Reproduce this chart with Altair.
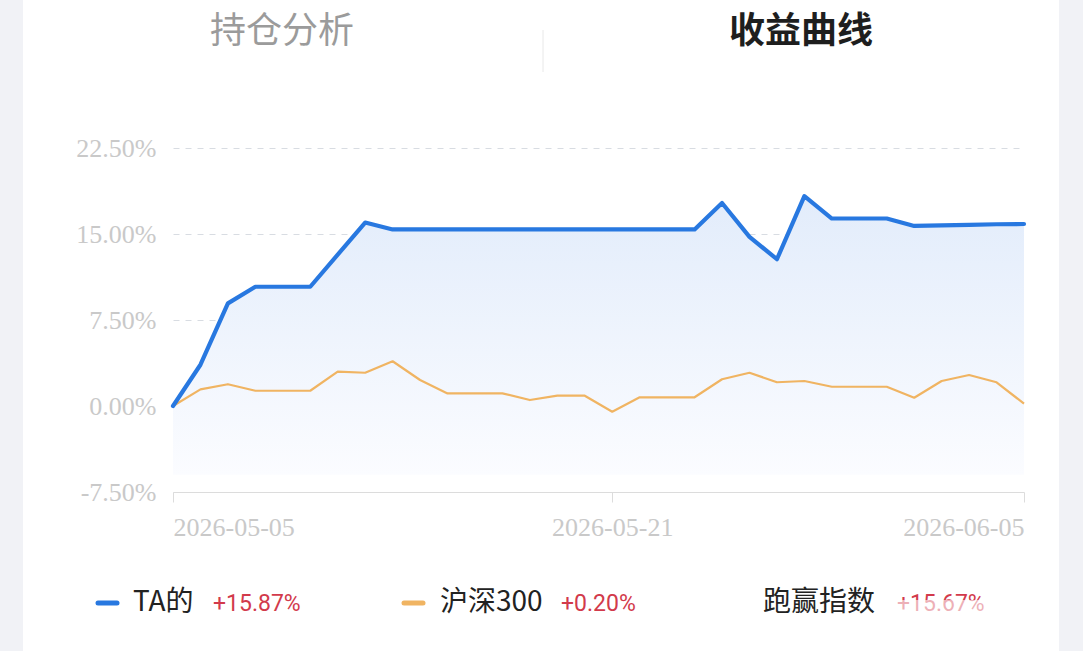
import altair as alt
import pandas as pd

# ---------------- data ----------------
dates = pd.date_range("2026-05-05", "2026-06-05", freq="D").strftime("%Y-%m-%d").tolist()
ta_returns = [0.0, 3.6, 8.95, 10.4, 10.4, 10.4, 13.2, 16.0, 15.4, 15.4,
              15.4, 15.4, 15.4, 15.4, 15.4, 15.4, 15.4, 15.4, 15.4, 15.4,
              17.7, 14.75, 12.8, 18.3, 16.35, 16.35, 16.35, 15.7, 15.75, 15.8,
              15.85, 15.87]
hs300_returns = [0.0, 1.45, 1.9, 1.33, 1.33, 1.33, 3.0, 2.9, 3.9, 2.27,
                 1.1, 1.1, 1.1, 0.52, 0.9, 0.9, -0.5, 0.76, 0.76, 0.76,
                 2.33, 2.9, 2.07, 2.18, 1.68, 1.68, 1.68, 0.72, 2.18, 2.7,
                 2.07, 0.2]
y_ticks = [-7.5, 0.0, 7.5, 15.0, 22.5]
x_tick_dates = ["2026-05-05", "2026-05-21", "2026-06-05"]
tabs = ["持仓分析", "收益曲线"]
series_names = ["TA的", "沪深300", "跑赢指数"]
series_returns = ["+15.87%", "+0.20%", "+15.67%"]

df = pd.DataFrame({"date": dates, "ta": ta_returns, "hs": hs300_returns})

# ---------------- style ----------------
BLUE = "#2878e0"
ORANGE = "#f0b462"
RED = "#d23a4b"
LABEL_GREY = "#c9c9c9"
SIDE_GREY = "#f1f2f6"
SERIF = "Liberation Serif"
CJK = "Noto Sans CJK SC"

def dt(s):
    y, m, d = (int(v) for v in s.split("-"))
    return alt.DateTime(year=y, month=m, date=d, utc=True)

x_axis = alt.Axis(values=[dt(s) for s in x_tick_dates], format="%Y-%m-%d",
                  labelFlush=True, grid=False, title=None,
                  domainColor="#dcdcdc", tickColor="#dcdcdc", tickSize=10,
                  labelFont=SERIF, labelFontSize=26, labelColor=LABEL_GREY,
                  labelPadding=12)
y_axis = alt.Axis(values=y_ticks,
                  labelExpr="(datum.value < 0 ? '-' : '') + format(abs(datum.value), '.2f') + '%'",
                  grid=True, gridDash=[6, 6], gridColor="#d8dce2", gridWidth=1,
                  domain=False, ticks=False, title=None,
                  labelFont=SERIF, labelFontSize=26, labelColor=LABEL_GREY,
                  labelPadding=17)

x_enc = alt.X("date:T", scale=alt.Scale(type="utc", domain=[dt(dates[0]), dt(dates[-1])], nice=False), axis=x_axis)
y_scale = alt.Scale(domain=[-7.5, 22.5], nice=False, zero=False)

one = pd.DataFrame({"k": [0]})
left_strip = alt.Chart(one).mark_rect(color=SIDE_GREY).encode(
    x=alt.value(-173), x2=alt.value(-150), y=alt.value(-148), y2=alt.value(503))
right_strip = alt.Chart(one).mark_rect(color=SIDE_GREY).encode(
    x=alt.value(886), x2=alt.value(910), y=alt.value(-148), y2=alt.value(503))

area = alt.Chart(df).mark_area(
    color=alt.Gradient(gradient="linear", x1=0, x2=0, y1=0, y2=1,
                       stops=[alt.GradientStop(color="#e2ecfb", offset=0),
                              alt.GradientStop(color="#fbfcff", offset=1)]),
).encode(x=x_enc, y=alt.Y("ta:Q", scale=y_scale, axis=y_axis), y2=alt.datum(-6.0))

hs_line = alt.Chart(df).mark_line(color=ORANGE, strokeWidth=2.2, strokeJoin="round").encode(
    x=x_enc, y=alt.Y("hs:Q", scale=y_scale, axis=y_axis))
ta_line = alt.Chart(df).mark_line(color=BLUE, strokeWidth=4.2, strokeJoin="round", strokeCap="round").encode(
    x=x_enc, y=alt.Y("ta:Q", scale=y_scale, axis=y_axis))


def label(text, x, y, size, color, font=CJK, weight="normal", align="left"):
    return alt.Chart(pd.DataFrame({"t": [text]})).mark_text(
        align=align, baseline="middle", font=font, fontSize=size,
        color=color, fontWeight=weight
    ).encode(x=alt.value(x), y=alt.value(y), text="t:N")


def dash(x1, x2, y, color):
    return alt.Chart(one).mark_rule(
        color=color, strokeWidth=5, strokeCap="round"
    ).encode(x=alt.value(x1), x2=alt.value(x2), y=alt.value(y))


tab1 = label(tabs[0], 109, -116, 36, "#9b9b9b", align="center")
tab2 = label(tabs[1], 628, -116, 36, "#1e1e1e", weight="bold", align="center")
divider = alt.Chart(one).mark_rule(color="#e8e8e8", strokeWidth=1).encode(
    x=alt.value(370), y=alt.value(-118), y2=alt.value(-76))

LY = 455
legend_layers = [
    dash(-75, -56, LY, BLUE),
    label(series_names[0], -40, LY, 28, "#222222"),
    label(series_returns[0], 40, LY + 1, 23, RED, font="Roboto"),
    dash(231, 250, LY, ORANGE),
    label(series_names[1], 267, LY, 28, "#222222"),
    label(series_returns[1], 388, LY + 1, 23, RED, font="Roboto"),
    label(series_names[2], 590, LY, 28, "#222222"),
    label(series_returns[2], 724, LY + 1, 23, RED, font="Roboto"),
]
veil = alt.Chart(one).mark_rect(color="white", opacity=0.6).encode(
    x=alt.value(705), x2=alt.value(886), y=alt.value(452), y2=alt.value(486))

chart = alt.layer(
    left_strip, right_strip, area, hs_line, ta_line, tab1, tab2, divider, *legend_layers, veil
).properties(
    width=851, height=344,
    padding={"left": 173, "top": 148, "right": 59, "bottom": 159},
    autosize=alt.AutoSizeParams(type="none"),
    background="white",
).configure_view(strokeWidth=0)

chart.save("out.html", embed_options={"renderer": "svg", "actions": False})
